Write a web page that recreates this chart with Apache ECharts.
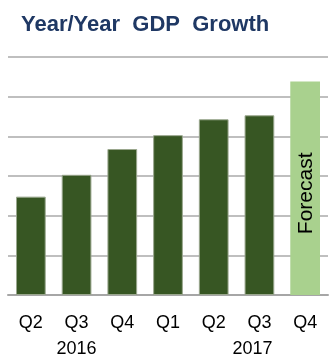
<!DOCTYPE html>
<html><head><meta charset="utf-8">
<script src="https://cdn.jsdelivr.net/npm/echarts@6/dist/echarts.min.js"></script>
<style>html,body{margin:0;padding:0;background:#fff}#c{width:329px;height:362px}</style>
</head><body><div id="c"></div>
<script>
const quarters = ['Q2','Q3','Q4','Q1','Q2','Q3','Q4'];
const years = ['', '2016', '', '', '', '2017', ''];
const growth = [2.48, 3.03, 3.68, 4.03, 4.43, 4.53, 5.38];
const isForecast = [false, false, false, false, false, false, true];
const forecastLabel = 'Forecast';
const titleText = 'Year/Year  GDP  Growth';

const FONT = 'Liberation Sans, Arial';
const chart = echarts.init(document.getElementById('c'), null, {renderer:'canvas'});
chart.setOption({
  animation: false,
  backgroundColor: '#fff',
  title: {
    text: titleText, left: 16, top: 9,
    textStyle: {fontFamily: FONT, fontSize: 22, fontWeight: 'bold', color: '#1F3864'}
  },
  grid: {left: 8, right: 1, top: 57, bottom: 65},
  xAxis: {
    type: 'category', data: quarters,
    axisLine: {lineStyle: {color: '#A6A6A6', width: 2}},
    axisTick: {show: false},
    axisLabel: {
      margin: 15, interval: 0,
      fontFamily: FONT, fontSize: 18, color: '#000', lineHeight: 26,
      formatter: function (v, i) {
        if (!years[i]) return v;
        return v + '\n' + (i === 5 ? '{s|' + years[i] + '}' : years[i]);
      },
      rich: {s: {fontFamily: FONT, fontSize: 18, color: '#000', lineHeight: 26, padding: [0, 14, 0, 0]}}
    }
  },
  yAxis: {
    type: 'value', min: 0, max: 6, interval: 1,
    axisLabel: {show: false}, axisLine: {show: false}, axisTick: {show: false},
    splitLine: {lineStyle: {color: '#BFBFBF', width: 2}}
  },
  series: [{
    type: 'bar', barWidth: '65%',
    data: growth.map((v, i) => ({
      value: v,
      itemStyle: isForecast[i]
        ? {color: '#A9D18E', borderColor: '#A9D18E', borderWidth: 0}
        : {color: '#375623', borderColor: '#9AA78E', borderWidth: 1},
      label: isForecast[i]
        ? {show: true, position: 'inside', rotate: 90, offset: [-5, 1], formatter: forecastLabel,
           fontFamily: FONT, fontSize: 21, color: '#000'}
        : {show: false}
    }))
  }]
});
</script></body></html>
